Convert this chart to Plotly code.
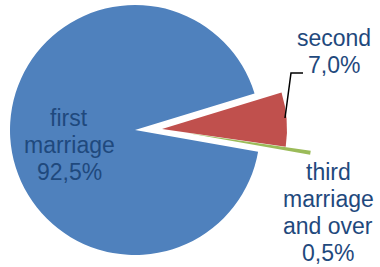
import math
import plotly.graph_objects as go

# ---- data ----
categories = ["first marriage", "second", "third marriage and over"]
label_lines = [["first", "marriage"], ["second"], ["third", "marriage", "and over"]]
shares = [92.5, 7.0, 0.5]

# ---- style ----
W, H = 380, 267
colors = ["#4F81BD", "#C0504D", "#9BBB59"]
text_color = "#1F497D"
font_family = "Liberation Sans, Arial, sans-serif"
font_size = 23
line_gap = 27
radius = 125
center = (135, 130)               # pixel centre of the un-exploded pie
offsets = [(0, 0), (27, -1), (52, 3)]   # explosion offset of each slice (px)
rotation = 100
label_pos = [(69, 145), (334, 51), (328, 212)]  # centre of each label block (px)

fig = go.Figure()
for i, cat in enumerate(categories):
    cx = center[0] + offsets[i][0]
    cy = center[1] + offsets[i][1]
    slice_colors = [colors[j] if j == i else "rgba(0,0,0,0)" for j in range(len(categories))]
    fig.add_trace(go.Pie(
        labels=categories,
        values=shares,
        sort=False,
        direction="clockwise",
        rotation=rotation,
        marker=dict(colors=slice_colors, line=dict(width=0)),
        textinfo="none",
        hoverinfo="skip",
        showlegend=False,
        domain=dict(x=[(cx - radius) / W, (cx + radius) / W],
                    y=[1 - (cy + radius) / H, 1 - (cy - radius) / H]),
    ))

annotations = []
for i, cat in enumerate(categories):
    lines = label_lines[i] + [f"{shares[i]:.1f}".replace(".", ",") + "%"]
    bx, by = label_pos[i]
    n = len(lines)
    for k, ln in enumerate(lines):
        py = by + (k - (n - 1) / 2) * line_gap
        annotations.append(dict(
            x=bx / W, y=1 - py / H, xref="paper", yref="paper",
            text=ln, showarrow=False, xanchor="center", yanchor="middle",
            font=dict(family=font_family, size=font_size, color=text_color),
        ))

# leader line for the "second" label
leader = [(285, 118), (291, 73), (303, 73)]
path = "M " + " L ".join(f"{x / W},{1 - y / H}" for x, y in leader)
fig.update_layout(
    width=W, height=H,
    margin=dict(l=0, r=0, t=0, b=0),
    paper_bgcolor="white", plot_bgcolor="white",
    annotations=annotations,
    shapes=[dict(type="path", path=path, xref="paper", yref="paper",
                 line=dict(color="black", width=1.5))],
)

fig.write_html("out.html",
               config={"displayModeBar": False},
               post_script="document.body.style.margin='0';document.body.style.overflow='hidden';")
